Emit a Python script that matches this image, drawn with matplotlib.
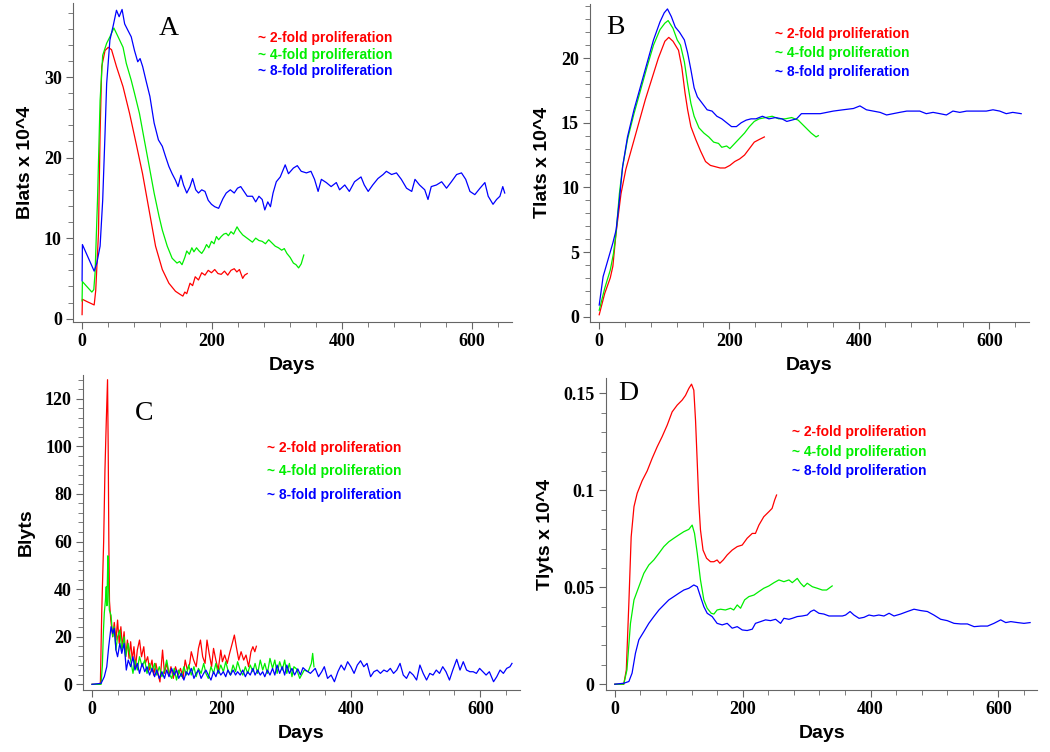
import numpy as np
import matplotlib
matplotlib.use('Agg')
import matplotlib.pyplot as plt
from matplotlib.ticker import MultipleLocator, FuncFormatter

# ---- data: [day, value] ----
# A: Blats x 10^4
a_red = np.array([[0, 0.5], [0.5, 2.4], [8, 2.1], [18.6, 1.7], [21, 3.5], [25.2, 10.6], [27.7, 23], [30.2, 31.3],
                  [35.3, 33.3], [40.3, 33.7], [45.3, 33.4], [52.9, 31.3], [63, 28.8], [73, 25.5], [83, 21.8],
                  [93, 18.0], [103, 13.5], [113, 9.0], [123.4, 6.1], [133.5, 4.4], [143.6, 3.4], [151, 3.0],
                  [155, 2.8], [158, 3.3], [161, 3.1], [166, 4.4], [170, 4.1], [174, 5.2], [179, 4.8], [184, 5.7],
                  [189, 5.4], [194, 6.0], [199, 5.7], [204, 6.1], [209, 5.6], [214, 5.5], [219, 5.9], [224, 5.4],
                  [229, 6.0], [234, 6.2], [238, 5.8], [242, 6.1], [247, 5.0], [250, 5.4], [254, 5.6]])
a_green = np.array([[0, 2.2], [0.5, 4.6], [15, 3.3], [18, 3.6], [20, 5.7], [23.7, 14.7], [27.7, 27.1], [31.7, 32.7],
                    [37.8, 34.2], [42.8, 35.0], [48.9, 36.1], [55.4, 35.0], [63, 33.7], [68, 31.7], [75.6, 29.6],
                    [80.6, 28.0], [88.2, 25.5], [95.7, 22.2], [103.3, 18.9], [110.8, 15.6], [118.4, 12.7],
                    [123.4, 11.0], [131, 9.0], [138.5, 7.5], [146, 6.9], [150, 7.1], [153.7, 6.7], [158, 7.6],
                    [161, 8.4], [165, 8.0], [168.8, 8.8], [172, 8.3], [176, 8.8], [180, 8.4], [184, 8.1], [188, 8.6],
                    [191.4, 9.2], [195, 8.8], [199, 9.6], [203, 9.3], [206.6, 10.2], [210, 9.8], [214, 10.2],
                    [218, 10.5], [221.7, 10.6], [225, 10.3], [229, 10.8], [233, 10.5], [238.3, 11.4], [242, 10.9],
                    [247, 10.4], [252, 10.1], [257, 9.8], [262, 9.5], [267, 10.0], [272, 9.7], [277, 9.6],
                    [282, 9.3], [287, 9.8], [292, 9.4], [297, 9.0], [302, 8.8], [307, 8.5], [311, 8.7], [315, 8.1],
                    [320, 7.6], [325, 6.9], [329, 6.7], [333, 6.3], [337, 6.8], [341, 7.9]])
a_blue = np.array([[0, 4.7], [0.5, 9.2], [18.6, 5.9], [22.7, 6.9], [27.7, 9.0], [31.7, 14.7], [35.3, 23.0],
                   [37.8, 29.2], [42.8, 34.6], [47.9, 36.4], [52.9, 38.3], [57, 37.5], [61.5, 38.4], [65.5, 36.6],
                   [70.5, 35.8], [75.6, 35.0], [80.6, 33.3], [85.6, 31.9], [89.2, 32.3], [93.2, 31.3], [98.2, 29.6],
                   [104.3, 27.6], [110.8, 24.3], [117.4, 22.2], [123.4, 21.4], [128.5, 20.1], [133.5, 18.9],
                   [138.5, 18.0], [143.6, 17.2], [147.6, 16.4], [152, 17.8], [156, 16.6], [161, 15.6], [166, 16.4],
                   [170, 17.4], [174.8, 16.0], [179, 15.6], [184, 16.0], [189, 15.8], [194, 14.7], [199, 14.2],
                   [204, 13.9], [210, 13.7], [216.6, 14.9], [221.7, 15.6], [228, 16.0], [234, 15.6], [239, 16.2],
                   [244, 16.4], [249, 15.8], [254, 15.2], [262, 15.2], [267, 14.5], [272, 15.2], [277, 14.8],
                   [281, 13.5], [285.6, 14.5], [289.7, 13.9], [293.7, 15.6], [298.7, 17.0], [304.8, 17.6],
                   [312.4, 19.1], [317.4, 18.0], [325, 18.7], [331, 19.0], [337, 18.3], [345, 18.1], [352, 18.3],
                   [357.5, 17.3], [363, 15.8], [368, 17.3], [375.6, 16.9], [383, 16.4], [391, 16.9], [396, 16.0],
                   [404, 16.6], [411, 15.8], [419, 17.0], [429, 17.6], [434, 16.6], [440, 15.8], [447, 16.6],
                   [455, 17.4], [463, 17.9], [468, 18.3], [476, 17.9], [483.5, 18.1], [491, 17.3], [499, 16.2],
                   [507, 15.8], [512, 17.3], [519, 16.6], [527, 16.0], [532, 14.8], [537, 16.4], [545, 16.6],
                   [553, 17.0], [560.5, 16.2], [568, 17.0], [576, 17.9], [583.5, 18.1], [590, 17.3], [596.5, 15.8],
                   [604, 15.4], [612, 16.2], [619.5, 16.9], [624.6, 15.2], [632, 14.2], [637.5, 14.8],
                   [642.6, 15.2], [647, 16.4], [650, 15.6]])

# B: Tlats x 10^4
b_red = np.array([[0, 0.15], [8.5, 1.8], [17, 3.0], [21, 3.9], [26, 6.5], [33.5, 9.5], [41, 11.4], [51, 13.2],
                  [61, 15.0], [71, 16.8], [81, 18.4], [91, 20.0], [101, 21.3], [107, 21.6], [113.5, 21.3],
                  [122, 20.6], [127, 19.3], [132, 17.3], [136, 16.0], [141, 14.7], [148.5, 13.7], [156, 12.8],
                  [163.5, 12.0], [171, 11.7], [178.5, 11.6], [186, 11.5], [193.5, 11.5], [201, 11.7], [208.5, 12.0],
                  [216, 12.2], [223.5, 12.5], [231, 13.0], [238.5, 13.5], [246, 13.7], [254, 13.9]])
b_green = np.array([[0, 0.5], [8.5, 2.2], [17, 3.6], [22, 4.9], [26, 6.5], [31, 9.5], [36, 11.6], [43.5, 13.7],
                    [53.5, 15.7], [63.5, 17.5], [73.5, 19.3], [83.5, 21.0], [93.5, 22.2], [101, 22.7], [106, 22.9],
                    [113.5, 22.3], [120, 21.4], [125, 21.0], [131, 19.7], [136, 18.0], [141, 16.5], [146, 15.5],
                    [153.5, 14.6], [161, 14.2], [168.5, 13.9], [176, 13.5], [183.5, 13.4], [188.5, 13.1],
                    [196, 13.2], [201, 13.0], [208.5, 13.4], [216, 13.8], [223.5, 14.2], [231, 14.7], [238.5, 15.1],
                    [246, 15.3], [256, 15.4], [266, 15.5], [276, 15.3], [286, 15.3], [296, 15.4], [306, 15.2],
                    [316, 14.7], [326, 14.2], [333.5, 13.9], [337, 14.0]])
b_blue = np.array([[0, 0.9], [6, 3.1], [13.5, 4.4], [21, 5.7], [26, 6.7], [31, 9.0], [36, 11.6], [43.5, 13.9],
                   [53.5, 16.0], [63.5, 17.8], [73.5, 19.6], [83.5, 21.4], [93.5, 22.8], [100, 23.5], [105, 23.8],
                   [111, 23.2], [117, 22.4], [123.5, 22.0], [131, 21.4], [136, 20.4], [141, 19.1], [146, 17.7],
                   [151, 17.0], [158.5, 16.5], [166, 16.0], [173.5, 15.9], [181, 15.5], [188.5, 15.3], [196, 15.0],
                   [203.5, 14.7], [211, 14.7], [218.5, 15.0], [226, 15.2], [233.5, 15.3], [241, 15.3], [251, 15.5],
                   [261, 15.3], [271, 15.4], [281, 15.3], [288.5, 15.1], [296, 15.2], [303.5, 15.3], [311, 15.7],
                   [321, 15.7], [331, 15.7], [340, 15.7], [360, 15.9], [375, 16.0], [391, 16.1], [401, 16.3],
                   [411, 16.0], [421.5, 15.9], [432, 15.8], [442, 15.6], [452, 15.7], [462, 15.8], [473, 15.9],
                   [483, 15.9], [493, 15.9], [503, 15.7], [513.5, 15.8], [524, 15.7], [534, 15.6], [544, 15.9],
                   [554.5, 15.8], [565, 15.9], [575, 15.9], [585, 15.9], [595.4, 15.9], [605.6, 16.0], [616, 15.9],
                   [626, 15.7], [636, 15.8], [649, 15.7]])

# C: Blyts
c_red = np.array([[0, 0], [12, 0], [13, 1], [15, 30], [18, 60], [20, 90], [22, 110], [24, 128], [25, 100], [26, 60],
                  [27, 35], [29, 27], [32, 20], [34.4, 26], [37, 18.6], [39.5, 27], [42, 17.2], [44.6, 24.2],
                  [47, 15.8], [49.6, 22.1], [52, 11.6], [54.7, 18.6], [57.2, 10.9], [59.7, 17.9], [62.3, 10.2],
                  [64.8, 15.8], [67.3, 7.4], [70, 14.4], [73.4, 18.6], [76.5, 11.6], [80, 15.8], [82.5, 8.8],
                  [86, 11.6], [89, 6.0], [92.7, 10.2], [95.2, 3.9], [98.7, 8.8], [101.8, 4.6], [105, 1.0],
                  [109, 14.4], [112, 4.6], [115.4, 8.8], [119, 3.9], [122, 7.4], [125.6, 2.5], [129, 7.4],
                  [133, 3.9], [136.7, 6.7], [140.7, 2.5], [144, 10.2], [147.3, 6.0], [151, 8.8], [153.4, 13.7],
                  [157, 10.2], [161, 7.4], [164.5, 15.1], [167.6, 18.6], [171, 11.6], [174.7, 8.8], [177.7, 18.6],
                  [181, 13.0], [184.8, 7.4], [187.8, 15.1], [191.4, 10.2], [195, 6.0], [199, 14.4], [201.5, 9.5],
                  [205, 12.3], [209, 8.8], [212.6, 13.0], [216.7, 17.2], [220, 20.7], [223, 15.8], [226.8, 10.2],
                  [230.4, 13.7], [234.4, 10.2], [238, 12.3], [242, 7.4], [245.6, 13.7], [248.6, 15.8],
                  [251.6, 13.7], [254, 16.0]])
c_green = np.array([[0, 0], [14, 0], [16, 8], [17.7, 22.8], [19, 30], [20.8, 35.5], [22, 41], [23, 33], [24.5, 54],
                    [25.5, 42], [26.8, 31.2], [29.4, 29], [32, 20], [34.4, 24.2], [37, 14.4], [39.5, 20], [43, 22.8],
                    [46, 14.4], [49.6, 20], [52, 11.6], [55.7, 17.2], [59.7, 10.2], [63.3, 4.6], [66.3, 10.2],
                    [70, 6.0], [73.4, 11.6], [77.5, 7.4], [81.5, 10.2], [85, 4.6], [89, 8.8], [92.7, 5.3],
                    [96.7, 8.8], [100, 3.9], [104, 7.4], [108, 3.2], [112, 6.0], [115.4, 10.2], [119, 4.6],
                    [123, 2.5], [127, 6.7], [130.6, 1.8], [134, 6.0], [138, 3.2], [142, 7.4], [145.8, 3.9],
                    [149.4, 8.1], [153.4, 3.9], [157.5, 7.4], [161, 3.2], [164.5, 6.7], [168.6, 4.6], [172.6, 8.8],
                    [176, 4.6], [179.7, 2.5], [183.8, 7.4], [187.8, 4.6], [191.4, 8.8], [195, 4.6], [199, 8.1],
                    [203, 5.3], [206.6, 9.5], [210, 6.0], [214, 3.9], [218, 8.1], [221.8, 5.3], [225, 9.5],
                    [229, 6.0], [233, 3.9], [237, 7.4], [240.5, 4.6], [244.5, 8.1], [248.6, 5.3], [252, 8.8],
                    [256, 4.6], [260, 10.2], [263.8, 6.0], [267, 8.8], [271, 4.6], [275, 10.9], [279, 6.7],
                    [282.5, 10.2], [286, 4.6], [290, 9.5], [294, 6.0], [297.7, 10.2], [301, 4.6], [305, 8.8],
                    [309, 3.2], [312, 7.4], [316, 6.5], [321, 2.5], [328, 6.0], [334, 5.3], [339, 8.8], [341, 13.0],
                    [343, 7.4]])
c_blue = np.array([[0, 0], [14, 0.4], [19, 3.2], [22.8, 7.4], [25.8, 15.8], [29.4, 24.2], [32, 21.4], [34.4, 23.5],
                   [37, 14.4], [39.5, 11.6], [43, 17.2], [46, 13.0], [49.6, 17.2], [53, 6.0], [56, 10.2],
                   [59.7, 7.4], [63.3, 11.6], [66.3, 6.0], [70, 8.8], [73.4, 4.6], [77.5, 8.8], [81.5, 5.3],
                   [85, 7.4], [89, 3.9], [92.7, 6.7], [96.7, 3.2], [100, 6.0], [104, 2.5], [108, 5.3], [112, 2.5],
                   [115.4, 6.0], [119, 3.2], [123, 6.7], [127, 3.9], [130.6, 6.0], [134, 2.5], [138, 4.6],
                   [142, 1.8], [145.8, 5.3], [149.4, 3.9], [153.4, 6.7], [157.5, 2.5], [161, 4.6], [164.5, 6.0],
                   [168.6, 2.5], [172.6, 4.6], [176, 6.0], [179.7, 3.9], [183.8, 1.8], [187.8, 5.3], [191.4, 3.2],
                   [195, 6.0], [199, 3.9], [203, 5.3], [206.6, 3.2], [210, 6.0], [214, 3.9], [218, 6.0],
                   [221.8, 3.9], [225, 5.3], [229, 3.9], [233, 6.0], [237, 3.2], [240.5, 5.3], [244.5, 3.9],
                   [248.6, 6.7], [252, 3.9], [256, 6.0], [260, 3.9], [263.8, 5.3], [267, 3.2], [271, 6.0],
                   [275, 3.9], [279, 6.7], [282.5, 3.9], [286, 8.1], [290, 4.6], [294, 7.4], [297.7, 3.9],
                   [301, 8.1], [305, 4.6], [309, 6.7], [313, 3.9], [318, 6.5], [322, 4.0], [326, 7.0], [330, 6.0],
                   [337.5, 4.6], [345, 6.7], [350, 3.2], [355, 5.3], [359, 7.4], [364, 2.5], [369.5, 3.9],
                   [374.6, 1.1], [380, 5.3], [385, 8.1], [390, 6.0], [395, 9.5], [400, 7.4], [405, 4.6], [410, 8.1],
                   [415, 9.9], [420, 7.4], [425, 8.8], [430.5, 3.2], [435.6, 5.3], [440.6, 6.0], [445.7, 4.6],
                   [451, 6.0], [456, 5.3], [461, 6.7], [466, 4.6], [471, 6.0], [476, 8.8], [481, 3.9], [486, 2.5],
                   [491, 5.3], [496.5, 3.9], [501.6, 1.8], [506.7, 8.1], [511.8, 4.6], [517, 1.8], [522, 4.6],
                   [527, 3.9], [532, 6.0], [537, 4.6], [542, 7.4], [547, 5.3], [552.4, 1.8], [557.5, 6.0],
                   [563.6, 10.5], [568.7, 6.0], [573.7, 9.5], [578.8, 6.0], [584, 5.3], [589, 5.3], [594, 4.6],
                   [599, 6.7], [604, 5.3], [609, 3.9], [614, 5.3], [620.5, 1.1], [625.5, 3.2], [630.6, 6.0],
                   [635.7, 4.6], [640.8, 6.7], [645.9, 7.4], [649, 8.8]])

# D: Tlyts x 10^4
d_red = np.array([[0, 0], [14, 0], [18, 0.0074], [22, 0.042], [25.6, 0.076], [30, 0.0916], [35, 0.0985],
                  [42.8, 0.105], [50.6, 0.110], [58.4, 0.1165], [66.3, 0.1225], [74, 0.1277], [82, 0.1337],
                  [89.7, 0.1405], [97.6, 0.144], [105.4, 0.1466], [110.6, 0.149], [115.8, 0.1526], [120, 0.1548],
                  [123.6, 0.1517], [126.3, 0.136], [129, 0.114], [131.5, 0.0933], [134, 0.0796], [138, 0.0692],
                  [143.5, 0.065], [149.7, 0.0632], [155, 0.0632], [160, 0.0641], [164.3, 0.0624], [169.6, 0.0641],
                  [175.8, 0.0667], [183.6, 0.0692], [191.5, 0.071], [199.3, 0.0718], [207, 0.0753], [215, 0.0778],
                  [220, 0.0778], [225.4, 0.0821], [233, 0.0864], [241, 0.089], [246, 0.0907], [250, 0.095],
                  [253, 0.0976]])
d_green = np.array([[0, 0], [14, 0], [19, 0.0074], [24.5, 0.0314], [30, 0.0435], [37.6, 0.0503], [45.4, 0.0572],
                    [53.2, 0.0615], [61, 0.0641], [68.9, 0.0675], [76.7, 0.071], [84.5, 0.0735], [92.3, 0.0753],
                    [100, 0.077], [108, 0.0787], [115.8, 0.0799], [121, 0.0821], [124.7, 0.0778], [129, 0.0675],
                    [134, 0.0538], [139.3, 0.0435], [144.5, 0.0392], [150.8, 0.0366], [155, 0.0362], [160, 0.0383],
                    [165.4, 0.0387], [173, 0.0383], [181, 0.0392], [186, 0.0383], [191.5, 0.0409], [196.7, 0.0392],
                    [203, 0.0435], [209.7, 0.0452], [217.6, 0.046], [225.4, 0.0478], [233, 0.0495], [241, 0.0507],
                    [249, 0.0524], [256.7, 0.0538], [264.5, 0.0529], [272.4, 0.0538], [277.6, 0.0524],
                    [285.4, 0.0546], [290.6, 0.0521], [295.8, 0.0503], [301, 0.0521], [309, 0.0503],
                    [316.7, 0.0495], [324.5, 0.0486], [331.3, 0.0486], [335, 0.0495], [340, 0.0507]])
d_blue = np.array([[0, 0], [14, 0.0005], [22, 0.0014], [27, 0.0057], [32.3, 0.016], [37.6, 0.0229], [45.4, 0.0271],
                   [53.2, 0.0314], [61, 0.0349], [69, 0.0383], [76.7, 0.0409], [84.5, 0.0435], [92.3, 0.0452],
                   [100, 0.0469], [108, 0.0486], [115.8, 0.0495], [123.6, 0.0512], [129, 0.0503], [134, 0.0452],
                   [139.3, 0.04], [144.5, 0.0366], [152.3, 0.0349], [160, 0.0314], [168, 0.0306], [175.8, 0.0314],
                   [183.6, 0.0289], [191.5, 0.0297], [199.3, 0.028], [207, 0.0277], [215, 0.0284], [220, 0.0314],
                   [228, 0.0323], [235.8, 0.0332], [243.6, 0.0328], [251.5, 0.0335], [259.3, 0.0314],
                   [264.5, 0.034], [272.4, 0.0335], [277.6, 0.034], [285.4, 0.0349], [293.2, 0.0352], [301, 0.0357],
                   [306.3, 0.0375], [311.5, 0.0383], [319.3, 0.0366], [327, 0.0362], [335, 0.0352], [345.4, 0.0352],
                   [356, 0.0352], [361, 0.0357], [368, 0.0375], [374, 0.0357], [382, 0.034], [389.7, 0.0345],
                   [397.6, 0.0357], [405, 0.0352], [413, 0.0357], [421, 0.0352], [429, 0.0366], [436.7, 0.0352],
                   [447, 0.0362], [457.6, 0.0375], [468, 0.0387], [478.4, 0.038], [489, 0.0375], [499, 0.0357],
                   [509.7, 0.0335], [520, 0.0328], [530.6, 0.0314], [541, 0.0311], [551.5, 0.0311], [562, 0.0297],
                   [572.5, 0.03], [583, 0.03], [593, 0.0314], [603.6, 0.0332], [611.5, 0.0318], [619.4, 0.0323],
                   [630, 0.0318], [640, 0.0314], [649.6, 0.0318]])

legend_labels = ['~ 2-fold proliferation', '~ 4-fold proliferation', '~ 8-fold proliferation']
colors = ['#ff0000', '#00ee00', '#0000ff']

panels = [
    # rect, series, ylim, ymajor, yminor, ylabel, letter, letter pos, legend pos, legend step
    ([0.0695, 0.572, 0.418, 0.424], [a_red, a_green, a_blue], (-0.4, 39.2), 10, 2, 'Blats x 10^4',
     'A', (134, 36), (270, 34.8), 2.0),
    ([0.562, 0.572, 0.418, 0.423], [b_red, b_green, b_blue], (-0.4, 24.2), 5, 1, 'Tlats x 10^4',
     'B', (25, 22.4), (271, 21.9), 1.5),
    ([0.079, 0.0824, 0.416, 0.419], [c_red, c_green, c_blue], (-2.4, 130), 20, 4, 'Blyts',
     'C', (80, 114), (270, 99.5), 9.9),
    ([0.577, 0.0824, 0.411, 0.415], [d_red, d_green, d_blue], (-0.003, 0.158), 0.05, 0.01, 'Tlyts x 10^4',
     'D', (21, 0.150), (277, 0.130), 0.01),
]

plt.rcParams['font.family'] = 'Liberation Serif'
plt.rcParams['font.weight'] = 'bold'

fig = plt.figure(figsize=(10.5, 7.52), dpi=100)
sans = ['Liberation Sans Narrow', 'Liberation Sans']

for rect, series, ylim, ymaj, ymin, ylabel, letter, lpos, gpos, gstep in panels:
    ax = fig.add_axes(rect)
    for s, c in zip(series, colors):
        ax.plot(s[:, 0], s[:, 1], color=c, lw=0.9)
    ax.set_xlim(-14, 661)
    ax.set_ylim(*ylim)
    ax.xaxis.set_major_locator(MultipleLocator(200))
    ax.xaxis.set_minor_locator(MultipleLocator(40))
    ax.yaxis.set_major_locator(MultipleLocator(ymaj))
    ax.yaxis.set_minor_locator(MultipleLocator(ymin))
    ax.yaxis.set_major_formatter(FuncFormatter(lambda v, p: '%g' % round(v, 4)))
    for side in ['top', 'right']:
        ax.spines[side].set_visible(False)
    for side in ['left', 'bottom']:
        ax.spines[side].set_color('#666666')
        ax.spines[side].set_linewidth(0.8)
    ax.tick_params(which='major', length=5, color='#666666', labelsize=13, pad=3)
    ax.tick_params(which='minor', length=3.5, color='#666666')
    ax.set_xlabel('Days', family='Liberation Sans', fontsize=14, fontweight='bold', labelpad=5)
    ax.set_ylabel(ylabel, family='Liberation Sans', fontsize=14, fontweight='bold', labelpad=7)
    ax.text(lpos[0], lpos[1], letter, fontsize=20, fontweight='normal', ha='center', va='center')
    for i, (lab, c) in enumerate(zip(legend_labels, colors)):
        ax.text(gpos[0], gpos[1] - i * gstep, lab, color=c, family=sans, fontsize=10,
                fontweight='bold', ha='left', va='center')

fig.savefig('out.png', dpi=100)
